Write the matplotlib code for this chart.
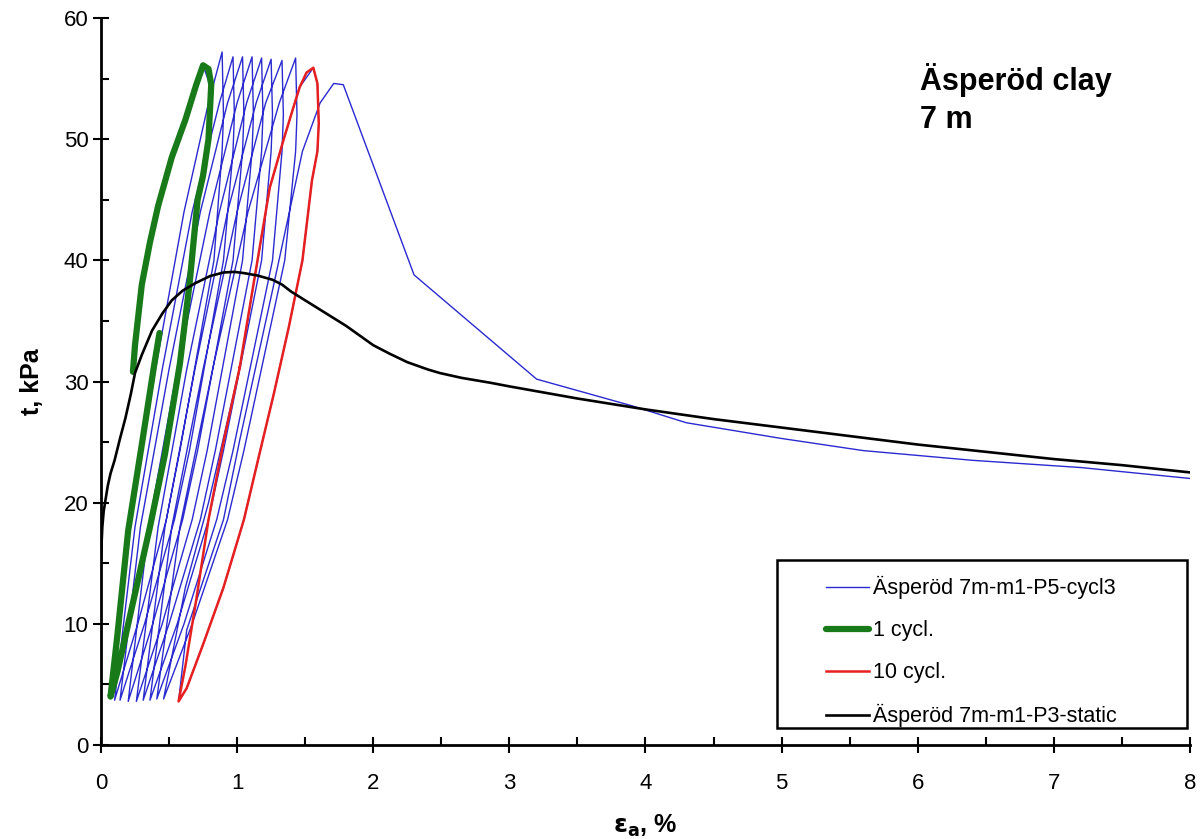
import matplotlib
matplotlib.use("Agg")
import matplotlib.pyplot as plt
from matplotlib.patches import Rectangle
from matplotlib.ticker import MultipleLocator

plt.rcParams['font.family'] = ['Liberation Sans', 'DejaVu Sans']

# ---------------- data ----------------
# cyclic test (blue), continuous path: cycle 1 ... cycle 10, then final loading
cyc_eps = [0.235, 0.30, 0.42, 0.62, 0.75, 0.80, 0.79, 0.71, 0.58, 0.36, 0.07,
           0.21, 0.40, 0.61, 0.79, 0.89, 0.90, 0.89, 0.83, 0.58, 0.48, 0.27, 0.10,
           0.25, 0.45, 0.67, 0.87, 0.97, 0.98, 0.97, 0.90, 0.65, 0.54, 0.32, 0.14,
           0.29, 0.50, 0.73, 0.93, 1.04, 1.05, 1.04, 0.97, 0.71, 0.60, 0.38, 0.20,
           0.35, 0.56, 0.80, 1.00, 1.11, 1.12, 1.11, 1.04, 0.78, 0.67, 0.45, 0.26,
           0.42, 0.63, 0.87, 1.07, 1.18, 1.19, 1.18, 1.11, 0.84, 0.73, 0.50, 0.31,
           0.47, 0.69, 0.93, 1.14, 1.25, 1.26, 1.25, 1.18, 0.90, 0.79, 0.56, 0.36,
           0.52, 0.75, 1.00, 1.21, 1.33, 1.34, 1.33, 1.26, 0.97, 0.85, 0.61, 0.41,
           0.58, 0.82, 1.08, 1.31, 1.43, 1.44, 1.43, 1.35, 1.05, 0.93, 0.67, 0.46,
           0.62, 0.79, 1.02, 1.24, 1.34, 1.46, 1.56, 1.59, 1.60, 1.59, 1.55, 1.48,
           1.38, 1.27, 1.17, 1.05, 0.90, 0.75, 0.63, 0.57,
           0.63, 0.90, 1.02, 1.25, 1.48, 1.61, 1.71, 1.78, 2.30, 3.20, 3.90, 4.30,
           5.00, 5.60, 6.40, 7.20, 8.00]
cyc_t = [30.8, 38.0, 44.5, 51.6, 56.1, 54.5, 50.0, 45.0, 31.5, 18.0, 4.0,
         18.0, 31.0, 44.0, 53.0, 57.2, 52.0, 49.0, 40.0, 24.3, 18.6, 10.0, 3.7,
         18.0, 31.0, 44.0, 53.0, 56.8, 52.0, 49.0, 40.0, 24.3, 18.6, 10.0, 3.7,
         18.0, 31.0, 44.0, 53.0, 56.8, 52.0, 49.0, 40.0, 24.3, 18.6, 10.0, 3.6,
         18.0, 31.0, 44.0, 53.0, 56.8, 52.0, 49.0, 40.0, 24.3, 18.6, 10.0, 3.6,
         18.0, 31.0, 44.0, 53.0, 56.7, 52.0, 49.0, 40.0, 24.3, 18.6, 10.0, 3.7,
         18.0, 31.0, 44.0, 53.0, 56.6, 52.0, 49.0, 40.0, 24.3, 18.6, 10.0, 3.7,
         18.0, 31.0, 44.0, 53.0, 56.5, 52.0, 49.0, 40.0, 24.3, 18.6, 10.0, 3.8,
         18.0, 31.0, 44.0, 53.0, 56.7, 52.0, 49.0, 40.0, 24.3, 18.6, 10.0, 3.8,
         13.0, 20.0, 31.2, 46.0, 49.9, 54.3, 55.9, 54.6, 51.3, 49.0, 46.6, 40.0,
         34.5, 29.0, 24.3, 18.6, 13.0, 8.3, 4.7, 3.6,
         9.5, 18.6, 25.2, 37.0, 49.0, 53.0, 54.6, 54.5, 38.8, 30.2, 28.0, 26.6,
         25.3, 24.3, 23.5, 22.9, 22.0]

# first cycle (green)
c1_eps = [0.235, 0.25, 0.30, 0.36, 0.42, 0.52, 0.62, 0.70, 0.75, 0.79, 0.81, 0.79,
          0.75, 0.71, 0.65, 0.58, 0.47, 0.36, 0.22, 0.12, 0.07, 0.12, 0.20, 0.30,
          0.39, 0.43]
c1_t = [30.8, 33.0, 38.0, 41.5, 44.5, 48.5, 51.6, 54.5, 56.1, 55.8, 54.5, 50.0,
        47.0, 45.0, 38.0, 31.5, 24.0, 18.0, 11.0, 6.0, 4.0, 9.0, 17.7, 24.8,
        31.3, 34.0]

# tenth cycle (red)
c10_eps = [1.02, 1.12, 1.24, 1.34, 1.41, 1.46, 1.51, 1.56, 1.59, 1.60, 1.59, 1.55,
           1.48, 1.38, 1.27, 1.17, 1.05, 0.90, 0.75, 0.63, 0.57, 0.62, 0.70, 0.79,
           0.90, 1.02]
c10_t = [31.2, 38.0, 46.0, 49.9, 52.5, 54.3, 55.5, 55.9, 54.6, 51.3, 49.0, 46.6,
         40.0, 34.5, 29.0, 24.3, 18.6, 13.0, 8.3, 4.7, 3.6, 6.5, 12.0, 18.6,
         25.0, 31.2]

# static test (black)
st_eps = [0.0, 0.005, 0.01, 0.02, 0.03, 0.05, 0.07, 0.10, 0.14, 0.18, 0.22, 0.25,
          0.30, 0.375, 0.45, 0.52, 0.60, 0.69, 0.80, 0.90, 0.98, 1.05, 1.15, 1.26,
          1.33, 1.40, 1.50, 1.60, 1.70, 1.80, 1.90, 2.00, 2.12, 2.25, 2.40, 2.49,
          2.65, 2.86, 3.0, 3.5, 4.0, 4.5, 5.0, 5.5, 6.0, 6.5, 7.0, 7.5, 8.0]
st_t = [15.3, 16.8, 18.0, 19.3, 20.0, 21.4, 22.4, 23.5, 25.3, 27.0, 29.0, 30.7,
        32.2, 34.2, 35.6, 36.7, 37.5, 38.1, 38.7, 39.0, 39.05, 38.95, 38.75, 38.4,
        38.0, 37.4, 36.7, 36.0, 35.3, 34.6, 33.8, 33.0, 32.3, 31.6, 31.0, 30.7,
        30.3, 29.9, 29.6, 28.6, 27.7, 26.9, 26.2, 25.5, 24.8, 24.2, 23.6, 23.1, 22.5]

labels = ['Äsperöd 7m-m1-P5-cycl3', '1 cycl.', '10 cycl.', 'Äsperöd 7m-m1-P3-static']
title_text = 'Äsperöd clay\n7 m'
x_ticks = [0, 1, 2, 3, 4, 5, 6, 7, 8]
y_ticks = [0, 10, 20, 30, 40, 50, 60]

# ---------------- figure ----------------
fig = plt.figure(figsize=(12.02, 8.39), dpi=100)
ax = fig.add_axes([0.084, 0.112, 0.906, 0.8665])

l1, = ax.plot(cyc_eps, cyc_t, color='#2a2ad0', lw=1.0, zorder=2)
l2, = ax.plot(c1_eps, c1_t, color='#187a18', lw=4.5, zorder=3, solid_capstyle='round')
l3, = ax.plot(c10_eps, c10_t, color='#e62020', lw=1.8, zorder=4)
l4, = ax.plot(st_eps, st_t, color='black', lw=1.9, zorder=5)

ax.set_xlim(0, 8)
ax.set_ylim(0, 60)
ax.set_xticks(x_ticks)
ax.set_yticks(y_ticks)
ax.xaxis.set_minor_locator(MultipleLocator(0.5))
ax.yaxis.set_minor_locator(MultipleLocator(5))
ax.tick_params(which='major', direction='inout', length=12, width=1.5, labelsize=16)
ax.tick_params(axis='x', which='major', pad=14)
ax.tick_params(axis='y', which='major', pad=3)
ax.tick_params(which='minor', direction='in', length=6, width=1.5)
for s in ['top', 'right']:
    ax.spines[s].set_visible(False)
for s in ['left', 'bottom']:
    ax.spines[s].set_linewidth(2)

ax.set_xlabel(r'$\mathbf{\varepsilon_a}$, %', fontsize=18, fontweight='bold', labelpad=14)
ax.set_ylabel('t, kPa', fontsize=18, fontweight='bold', labelpad=14)

ax.text(0.752, 0.938, title_text, transform=ax.transAxes, fontsize=22,
        fontweight='bold', va='top', ha='left', linespacing=1.35)

ax.add_patch(Rectangle((0.621, 0.023), 0.376, 0.231, transform=ax.transAxes,
                       fill=True, facecolor='white', edgecolor='black', lw=1.8, zorder=6))
leg = ax.legend([l1, l2, l3, l4], labels, loc='upper left',
                bbox_to_anchor=(0.666, 0.232), frameon=False, fontsize=15.5,
                handlelength=2.0, handletextpad=0.15, labelspacing=0.97,
                borderpad=0, borderaxespad=0)
leg.set_zorder(7)

fig.savefig('out.png', dpi=100)
